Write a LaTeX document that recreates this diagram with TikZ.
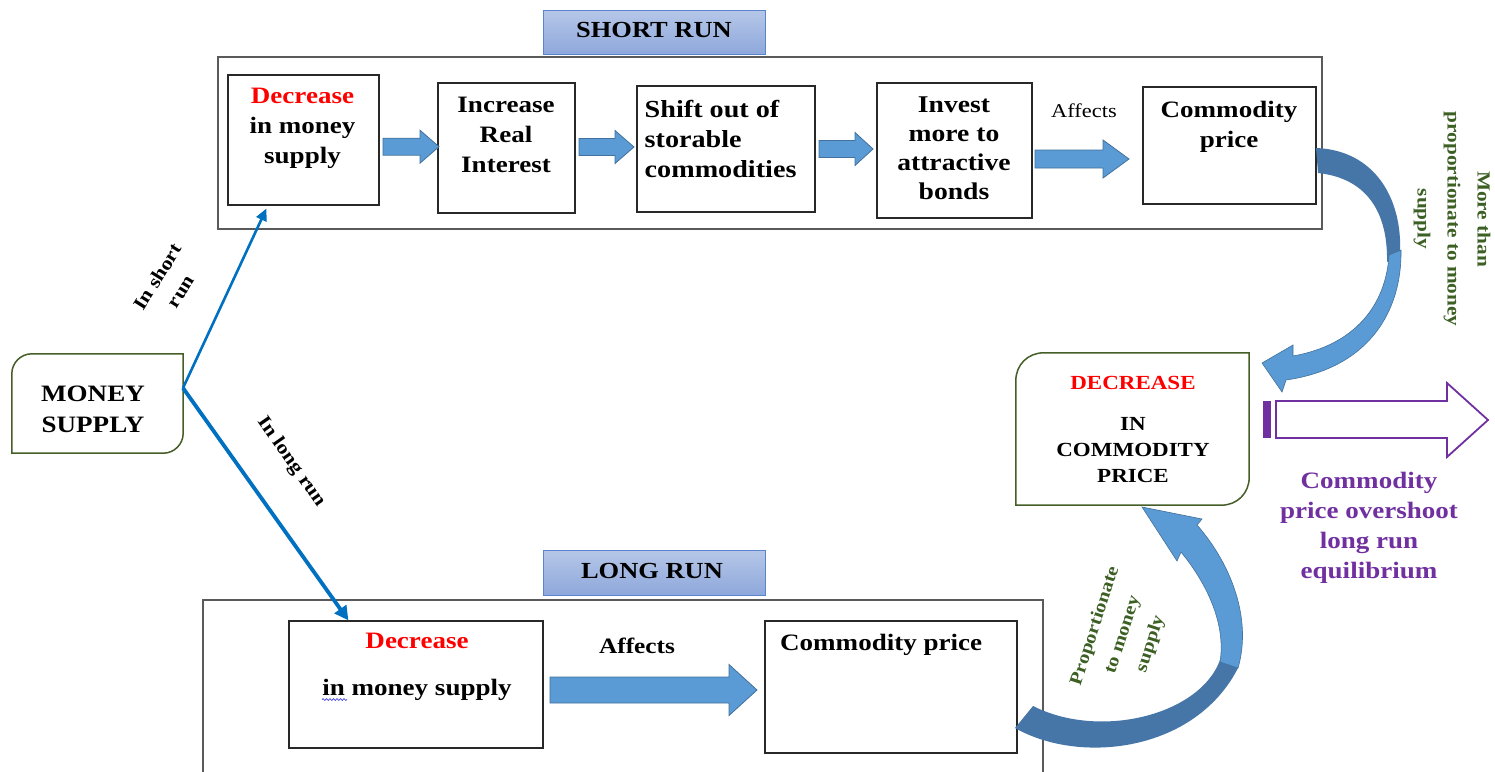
\documentclass[tikz,border=0pt]{standalone}
\usepackage{fontspec}
\setmainfont{Liberation Serif}[FakeStretch=1.15]
\usetikzlibrary{fit,calc,arrows.meta,decorations.pathmorphing}

\definecolor{linkblue}{RGB}{0,112,192}
\definecolor{fillblue}{RGB}{91,155,213}
\definecolor{edgeblue}{RGB}{65,113,156}
\definecolor{backblue}{RGB}{70,117,168}
\definecolor{ttop}{RGB}{182,199,232}
\definecolor{tbot}{RGB}{142,168,219}
\definecolor{tedge}{RGB}{90,130,205}
\definecolor{olive}{RGB}{70,95,40}
\definecolor{leaf}{RGB}{60,95,35}
\definecolor{plum}{RGB}{112,48,160}
\definecolor{alert}{RGB}{255,0,0}
\definecolor{framegray}{RGB}{90,90,90}
\definecolor{boxedge}{RGB}{40,40,40}
\definecolor{squiggle}{RGB}{70,70,230}

% straight block arrow: x-start, x-tip, y-centre, shaft half, head half, head start
\newcommand\blkarrow[6]{%
  \filldraw[fill=fillblue, draw=edgeblue, line width=0.8]
    (#1,#3-#4) -- (#6,#3-#4) -- (#6,#3-#5) -- (#2,#3) -- (#6,#3+#5)
    -- (#6,#3+#4) -- (#1,#3+#4) -- cycle;}

\begin{document}
\begin{tikzpicture}[x=1pt,y=-1pt,
  frm/.style={draw=framegray, line width=1.3, inner sep=0},
  stepbox/.style={draw=boxedge, line width=1.2, inner sep=0},
  hold/.style={inner sep=0},
  titlebox/.style={draw=tedge, line width=1, top color=ttop, bottom color=tbot, inner sep=0},
  % multi-line texts sit on the baseline of their last line
  bx/.style={font=\bfseries\fontsize{23.5}{30}\selectfont, align=center, anchor=base, inner sep=0},
  rt/.style={font=\bfseries\fontsize{19}{27}\selectfont, align=center, anchor=center, inner sep=0},
  grn/.style={draw=olive, line width=1.5},
  link/.style={draw=linkblue}
]
\useasboundingbox (0,0) rectangle (1495,771);
\fill[white] (0,0) rectangle (1495,771);
\clip (0,0) rectangle (1495,771);

% ---------- short run ----------
\node[titlebox, fit={(543,10) (765,54)}] (srtitle) {};
\node[bx, font=\bfseries\fontsize{23}{28}\selectfont, anchor=center] (srtext) at (654,30) {SHORT RUN};
\node[frm, fit={(218,57) (1322,229)}] (srframe) {};

\node[stepbox, fit={(228,75) (379,205)}] (b1) {};
\node[stepbox, fit={(438,83) (575,213)}] (b2) {};
\node[stepbox, fit={(637,86) (815,212)}] (b3) {};
\node[stepbox, fit={(877,83) (1032,218)}] (b4) {};
\node[stepbox, fit={(1143,87) (1316,204)}] (b5) {};

\node[bx] (t1) at (302.5,163) {\textcolor{alert}{Decrease}\\in money\\supply};
\node[bx] (t2) at (506,172) {Increase\\Real\\Interest};
\node[bx, font=\bfseries\fontsize{24.5}{30}\selectfont, align=left, anchor=base west] (t3) at (644.5,177) {Shift out of\\storable\\commodities};
\node[bx, font=\bfseries\fontsize{24}{29}\selectfont] (t4) at (954,199) {Invest\\more to\\attractive\\bonds};
\node[bx] (t5) at (1229,147) {Commodity\\price};
\node[font=\fontsize{19.5}{24}\selectfont, anchor=base, inner sep=0] (aff1) at (1084,117) {Affects};

\blkarrow{383}{439}{146.7}{8.5}{16.5}{420}
\blkarrow{579}{634}{147}{8.5}{16.5}{615}
\blkarrow{819}{873}{149}{8.5}{16.5}{855}
\blkarrow{1035}{1129}{159}{9}{19}{1103}

% ---------- long run ----------
\node[titlebox, fit={(543,550) (765,595)}] (lrtitle) {};
\node[bx, font=\bfseries\fontsize{23}{28}\selectfont, anchor=center] (lrtext) at (652,570.5) {LONG RUN};
\node[frm, fit={(203,600) (1043,800)}] (lrframe) {};

\node[stepbox, fit={(289,621) (543,748)}] (l1) {};
\node[stepbox, fit={(765,621) (1017,753)}] (l2) {};
\node[bx] (lt1) at (417,695) {\textcolor{alert}{Decrease}\\[17pt]in money supply};
\draw[squiggle, line width=0.7, decorate, decoration={snake, amplitude=0.9, segment length=3.5}] (322,699.5) -- (347,699.5);
\node[bx, font=\bfseries\fontsize{22}{26}\selectfont] (aff2) at (637,653) {Affects};
\node[bx, anchor=base west] (lt2) at (780,650) {Commodity price};
\blkarrow{550}{757}{690}{13}{25.5}{729}

% ---------- money supply ----------
\node[hold, fit={(12,354) (183,453)}] (ms) {};
\draw[grn] (ms.north east) -- ($(ms.north west)+(20,0)$)
  .. controls ($(ms.north west)+(9,0)$) and ($(ms.north west)+(0,9)$) .. ($(ms.north west)+(0,20)$)
  -- (ms.south west) -- ($(ms.south east)+(-20,0)$)
  .. controls ($(ms.south east)+(-9,0)$) and ($(ms.south east)+(0,-9)$) .. ($(ms.south east)+(0,-20)$)
  -- cycle;
\node[bx, font=\bfseries\fontsize{23.5}{31}\selectfont] (mstext) at (93,432) {MONEY\\SUPPLY};

\coordinate (fork) at (183,388);
\draw[link, line width=2.6, -{Triangle[length=12pt,width=11pt]}] (fork) -- ($(b1.south west)+(39,3)$);
\draw[link, line width=3.8, -{Triangle[length=14pt,width=14pt]}] (fork) -- ($(l1.north west)+(60,0)$);

\node[rt, rotate=58] (lbshort) at (169,284) {In short\\run};
\node[rt, rotate=-55] (lblong) at (291,462) {In long run};

% ---------- decrease in commodity price ----------
\node[hold, fit={(1016,353) (1249,505)}] (dec) {};
\draw[grn] (dec.north east) -- ($(dec.north west)+(28,0)$)
  .. controls ($(dec.north west)+(12,0)$) and ($(dec.north west)+(0,12)$) .. ($(dec.north west)+(0,28)$)
  -- (dec.south west) -- ($(dec.south east)+(-28,0)$)
  .. controls ($(dec.south east)+(-12,0)$) and ($(dec.south east)+(0,-12)$) .. ($(dec.south east)+(0,-28)$)
  -- cycle;
\node[bx, font=\bfseries\fontsize{20}{26}\selectfont] (dectext) at (1133,482) {\textcolor{alert}{DECREASE}\\[15pt]IN\\COMMODITY\\PRICE};

% ---------- curved arrows ----------
\fill[backblue] (1316,148) .. controls (1372,150) and (1403,195) .. (1400,255)
  -- (1387,262) .. controls (1388,210) and (1365,178) .. (1318,173) -- cycle;
\filldraw[fill=fillblue, draw=edgeblue, line width=0.6]
  (1401,250) .. controls (1402,310) and (1370,368) .. (1286,380)
  -- (1282,392) -- (1262,363) -- (1293,345) -- (1293,356)
  .. controls (1355,345) and (1386,305) .. (1389,255) -- cycle;

\fill[backblue] (1015,728) .. controls (1080,765) and (1195,752) .. (1238,668)
  -- (1220,660) .. controls (1200,715) and (1100,740) .. (1033,706) -- cycle;
\filldraw[fill=fillblue, draw=edgeblue, line width=0.6]
  (1238,668) .. controls (1252,620) and (1232,565) .. (1197,525)
  -- (1202,519) -- (1142,507) -- (1177,561) -- (1181,552)
  .. controls (1208,585) and (1226,625) .. (1220,662) -- cycle;

\node[rt, text=leaf, font=\bfseries\fontsize{18}{29}\selectfont, rotate=72] (lbprop) at (1123,635) {Proportionate\\to money\\supply};
\node[rt, text=leaf, font=\bfseries\fontsize{18.5}{30}\selectfont, rotate=-90] (lbmore) at (1452,219) {More than\\proportionate to money\\supply};

% ---------- overshoot ----------
\fill[plum] (1263,401) rectangle (1270.5,438);
\draw[plum, line width=1.8, fill=white] (1276,401) -- (1447,401) -- (1447,383) -- (1488,420)
  -- (1447,457) -- (1447,438) -- (1276,438) -- cycle;
\node[bx, text=plum] (overtext) at (1369,578) {Commodity\\price overshoot\\long run\\equilibrium};
\end{tikzpicture}
\end{document}
